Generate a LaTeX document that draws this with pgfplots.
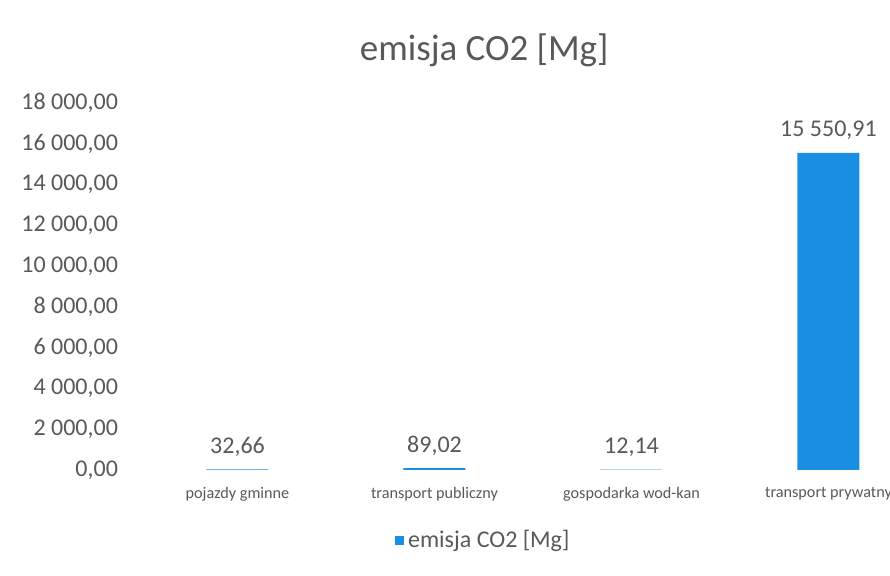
\documentclass[border=0pt]{standalone}
\usepackage{fontspec}
\setmainfont{Carlito}
\usepackage{pgfplots}
\pgfplotsset{compat=1.18}
\definecolor{barblue}{RGB}{26,142,226}
\definecolor{txt}{RGB}{89,89,89}
\begin{document}
\begin{tikzpicture}
\clip (0,0) rectangle (445pt,288pt);
\fill[white] (0,0) rectangle (445pt,288pt);
\begin{axis}[
  at={(69.5pt,53pt)}, anchor=south west,
  scale only axis, width=394pt, height=183.5pt,
  xmin=-0.5, xmax=3.5, ymin=0, ymax=18000,
  scaled y ticks=false,
  axis line style={draw=none},
  tick style={draw=none}, major tick length=0pt,
  xtick={0,1,2,3},
  xticklabels={pojazdy gminne, transport publiczny, gospodarka wod-kan, transport prywatny},
  xticklabel style={font=\fontsize{8.1}{10}\selectfont, text=txt, yshift=-5pt},
  ytick={0,2000,4000,6000,8000,10000,12000,14000,16000,18000},
  yticklabels={{0,00},{2 000,00},{4 000,00},{6 000,00},{8 000,00},{10 000,00},{12 000,00},{14 000,00},{16 000,00},{18 000,00}},
  yticklabel style={font=\fontsize{12}{14}\selectfont, text=txt, xshift=-7pt},
  /pgf/number format/fixed,
  /pgf/number format/fixed zerofill,
  /pgf/number format/precision=2,
  /pgf/number format/use comma,
  /pgf/number format/1000 sep={\ },
  /pgf/number format/assume math mode=true,
  nodes near coords,
  every node near coord/.append style={font=\fontsize{12}{14}\selectfont, text=txt, yshift=3pt},
  title={emisja CO2 [Mg]},
  title style={at={(0.438,1.11)}, anchor=center, font=\fontsize{18.5}{22}\selectfont, text=txt},
  legend style={at={(0.438,-0.193)}, anchor=center, draw=none, fill=none, font=\fontsize{12}{14}\selectfont, text=txt},
  legend image code/.code={\fill[barblue] (0pt,-2.3pt) rectangle (4.6pt,2.3pt);},
]
\addplot[ybar, fill=barblue, draw=none, bar width=31pt]
  coordinates {(0,32.66) (1,89.02) (2,12.14) (3,15550.91)};
\addlegendentry{emisja CO2 [Mg]}
\end{axis}
\end{tikzpicture}
\end{document}
